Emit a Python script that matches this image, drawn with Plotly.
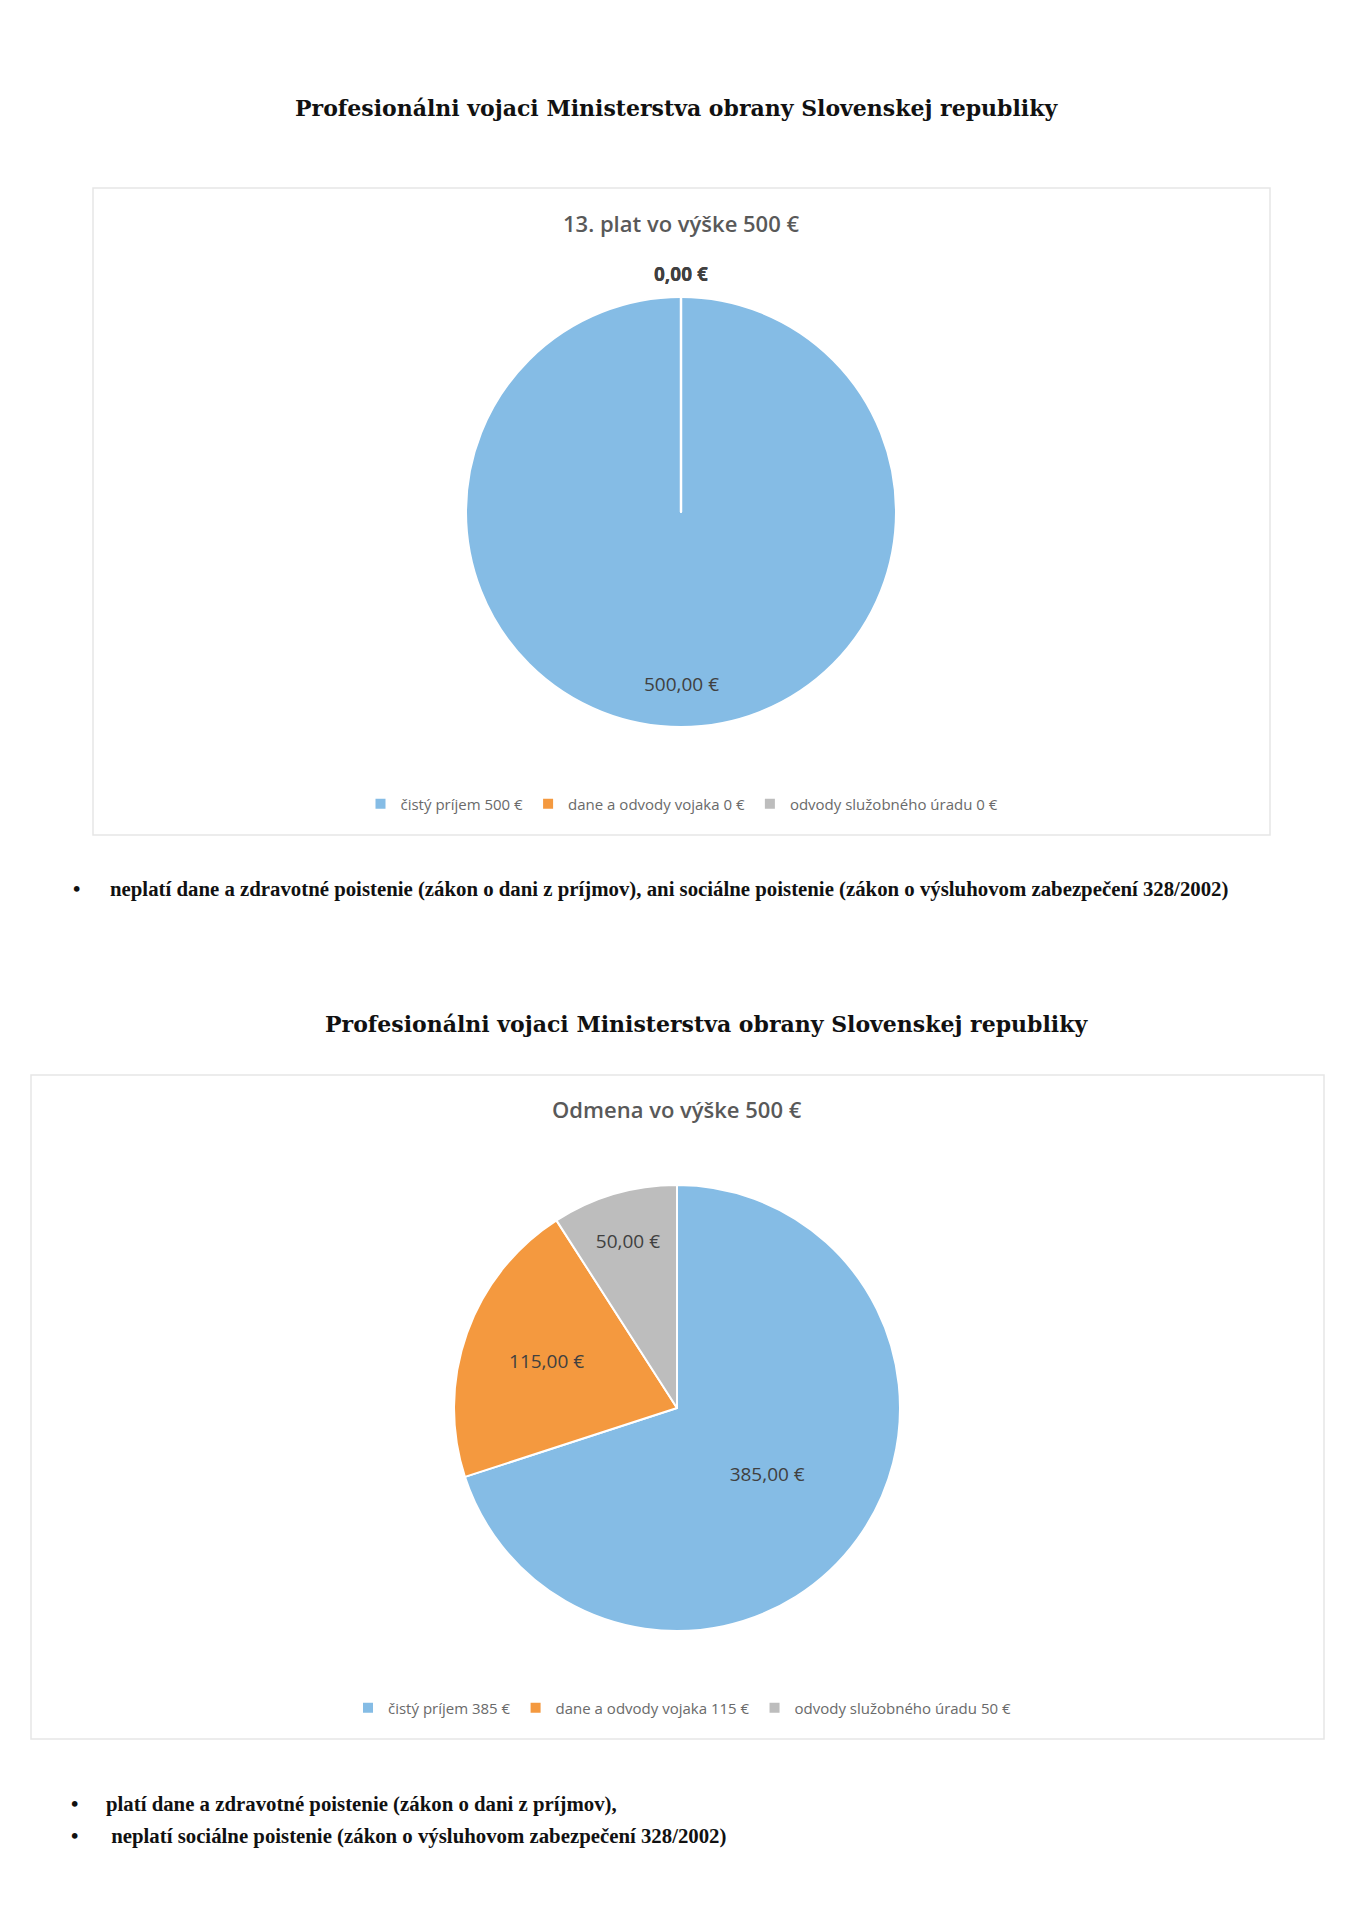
import math
import plotly.graph_objects as go

# data
kategorie = ["čistý príjem", "dane a odvody vojaka", "odvody služobného úradu"]
farby = ["#85BCE5", "#F4993F", "#BDBDBD"]

plat13_hodnoty = [500, 0, 0]
odmena_hodnoty = [385, 115, 50]

nadpis = "Profesionálni vojaci Ministerstva obrany Slovenskej republiky"
graf1_nadpis = "13. plat vo výške 500 €"
graf2_nadpis = "Odmena vo výške 500 €"
poznamky1 = ["neplatí dane a zdravotné poistenie (zákon o dani z príjmov), ani sociálne poistenie (zákon o výsluhovom zabezpečení 328/2002)"]
poznamky2 = ["platí dane a zdravotné poistenie (zákon o dani z príjmov),",
             "&nbsp;neplatí sociálne poistenie (zákon o výsluhovom zabezpečení 328/2002)"]

# the page body has an 8px margin, so the figure is a bit smaller and shifted
OFF = 8
W, H = 1356 - 2 * OFF, 1920 - 2 * OFF


def px(x):
    return (x - OFF) / W


def py(y):
    return 1 - (y - OFF) / H


def eur(v):
    return f"{v:.2f}".replace(".", ",") + " €"


def legenda(hodnoty):
    return [f"{k} {v} €" for k, v in zip(kategorie, hodnoty)]


# pie placement on the page (pixels: center x, center y, radius)
pie1 = (681, 512, 215)
pie2 = (677, 1408, 223)


def domena(p):
    cx, cy, r = p
    return dict(x=[px(cx - r), px(cx + r)], y=[py(cy + r), py(cy - r)])


fig = go.Figure()

# first pie: one full slice, labels are put as annotations below
fig.add_trace(go.Pie(
    labels=legenda(plat13_hodnoty),
    values=plat13_hodnoty,
    sort=False,
    direction="clockwise",
    rotation=0,
    marker=dict(colors=farby, line=dict(color="white", width=2)),
    textinfo="none",
    domain=domena(pie1),
    legend="legend",
    hoverinfo="label+value",
))

fig.add_trace(go.Pie(
    labels=legenda(odmena_hodnoty),
    values=odmena_hodnoty,
    sort=False,
    direction="clockwise",
    rotation=0,
    marker=dict(colors=farby, line=dict(color="white", width=2)),
    texttemplate="%{value:.2f} €",
    textposition="inside",
    insidetextorientation="horizontal",
    textfont=dict(family="Open Sans", size=19, color="#404040"),
    domain=domena(pie2),
    legend="legend2",
    hoverinfo="label+value",
))

# chart frames
fig.add_shape(type="rect", xref="paper", yref="paper",
              x0=px(93), x1=px(1270), y0=py(835), y1=py(188),
              line=dict(color="#E6E6E6", width=1.5), layer="below")
fig.add_shape(type="rect", xref="paper", yref="paper",
              x0=px(31), x1=px(1324), y0=py(1739), y1=py(1075),
              line=dict(color="#E6E6E6", width=1.5), layer="below")

# white border of the full slice (from center to the top)
cx, cy, r = pie1
fig.add_shape(type="line", xref="paper", yref="paper",
              x0=px(cx), x1=px(cx), y0=py(cy), y1=py(cy - r),
              line=dict(color="white", width=2.5))

anot = []


def text(t, x, y, font, xanchor="center", yanchor="middle"):
    anot.append(dict(text=t, x=px(x), y=py(y), xref="paper", yref="paper",
                     showarrow=False, xanchor=xanchor, yanchor=yanchor, font=font))


for y, xc in [(108, 676), (1024, 706)]:
    text(nadpis, xc, y, dict(family="DejaVu Serif", size=22, color="#111111", weight="bold"))

text(graf1_nadpis, 681, 223, dict(family="Open Sans", size=22, color="#595959", weight=600))
text(graf2_nadpis, 677, 1109, dict(family="Open Sans", size=22, color="#595959", weight=600))

# data labels of the first pie, placed on each slice's bisector
celkom = sum(plat13_hodnoty)
kum = 0
for v in plat13_hodnoty:
    uhol = math.radians((kum + v / 2) / celkom * 360)
    kum += v
    if v > 0:
        lx, ly = cx + 0.8 * r * math.sin(uhol), cy - 0.8 * r * math.cos(uhol)
        text(eur(v), lx, ly, dict(family="Open Sans", size=19, color="#404040"))
    else:
        lx, ly = cx + (r + 8) * math.sin(uhol), cy - (r + 8) * math.cos(uhol)
        text(eur(v), lx, ly, dict(family="Open Sans", size=19, color="#404040", weight="bold"),
             yanchor="bottom")

# bullet notes
for poz, y0, xb, xt in [(poznamky1, 889, 76, 108), (poznamky2, 1804, 74, 104)]:
    for i, t in enumerate(poz):
        yy = y0 + i * 32
        text("•", xb, yy, dict(family="Liberation Serif", size=21, color="#111111", weight="bold"))
        text(t, xt, yy, dict(family="Liberation Serif", size=20.8, color="#111111", weight="bold"),
             xanchor="left")

leg = dict(orientation="h", xanchor="center", yanchor="middle",
           font=dict(family="Open Sans", size=15, color="#6A6A6A"),
           itemwidth=30, tracegroupgap=0,
           bgcolor="rgba(0,0,0,0)", itemclick=False, itemdoubleclick=False)

fig.update_layout(
    width=W, height=H,
    margin=dict(l=0, r=0, t=0, b=0),
    paper_bgcolor="white",
    plot_bgcolor="white",
    separators=", ",
    annotations=anot,
    legend=dict(leg, x=px(682), y=py(804)),
    legend2=dict(leg, x=px(682), y=py(1708)),
)

fig.write_html("out.html")
